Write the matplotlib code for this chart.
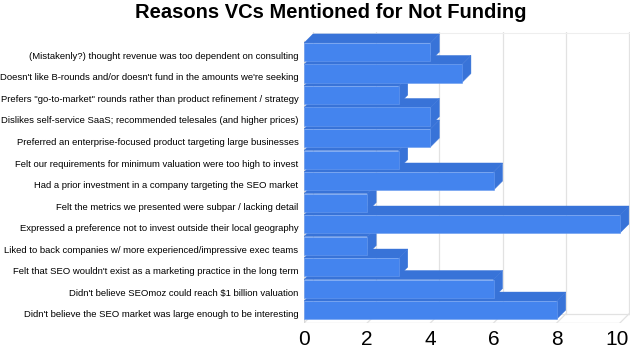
import matplotlib.pyplot as plt
from matplotlib.patches import Polygon
from matplotlib.transforms import ScaledTranslation
import numpy as np

plt.rcParams['font.family'] = ['Liberation Sans', 'DejaVu Sans']

# reasons, top to bottom as in the chart
reasons = [
    "(Mistakenly?) thought revenue was too dependent on consulting",
    "Doesn't like B-rounds and/or doesn't fund in the amounts we're seeking",
    "Prefers \"go-to-market\" rounds rather than product refinement / strategy",
    "Dislikes self-service SaaS; recommended telesales (and higher prices)",
    "Preferred an enterprise-focused product targeting large businesses",
    "Felt our requirements for minimum valuation were too high to invest",
    "Had a prior investment in a company targeting the SEO market",
    "Felt the metrics we presented were subpar / lacking detail",
    "Expressed a preference not to invest outside their local geography",
    "Liked to back companies w/ more experienced/impressive exec teams",
    "Felt that SEO wouldn't exist as a marketing practice in the long term",
    "Didn't believe SEOmoz could reach $1 billion valuation",
    "Didn't believe the SEO market was large enough to be interesting",
]
counts = [4, 5, 3, 4, 4, 3, 6, 2, 10, 2, 3, 6, 8]
xticks = [0, 2, 4, 6, 8, 10]

front_col = "#4484EE"
dark_col = "#3873D8"
grid_col = "#e2e2e2"

fig = plt.figure(figsize=(6.3, 3.57), dpi=100)
ax = fig.add_axes([304 / 630, 1 - 323 / 357, 1 - 304 / 630, (323 - 32) / 357])

n = len(counts)
ypos = np.arange(n)
h = 0.84          # bar thickness
dx, dy = 0.285, 0.42   # fake 3d depth
y_floor = n - 1 + 0.6
y_top = -0.93

ax.set_xlim(0, 10.32)
ax.set_ylim(y_floor, y_top)

# back wall grid + floor
for t in xticks:
    ax.plot([t + dx, t + dx], [y_top + 0.02, y_floor - dy], color=grid_col, lw=0.9, zorder=1)
    ax.plot([t, t + dx], [y_floor, y_floor - dy], color=grid_col, lw=0.9, zorder=1)
ax.plot([dx, 10 + dx], [y_floor - dy, y_floor - dy], color=grid_col, lw=0.9, zorder=1)
ax.plot([0, 10], [y_floor, y_floor], color=grid_col, lw=1.0, zorder=1)
ax.plot([dx, 10 + dx], [y_top + 0.03, y_top + 0.03], color="#eeeeee", lw=0.8, zorder=1)
ax.plot([0, 0], [y_floor, y_top + dy], color="#d8d8d8", lw=1.0, zorder=1)

bars = ax.barh(ypos, counts, height=h, color=front_col, edgecolor="#6a9cf0", linewidth=0.4)
for i, (rect, v) in enumerate(zip(bars, counts)):
    z = 100 - 3 * i
    rect.set_zorder(z + 2)
    y0 = i - h / 2
    y1 = i + h / 2
    top = Polygon([(0, y0), (v, y0), (v + dx, y0 - dy), (dx, y0 - dy)],
                  closed=True, facecolor=dark_col, edgecolor=dark_col, lw=0.3, zorder=z + 1)
    side = Polygon([(v, y0), (v + dx, y0 - dy), (v + dx, y1 - dy), (v, y1)],
                   closed=True, facecolor=dark_col, edgecolor=dark_col, lw=0.3, zorder=z + 1)
    ax.add_patch(top)
    ax.add_patch(side)

ax.set_yticks(ypos)
ax.set_yticklabels(reasons, fontsize=6.8)
ax.set_xticks(xticks)
ax.set_xticklabels([str(t) for t in xticks], fontsize=15)
ax.tick_params(axis="y", length=0, pad=4)
ax.tick_params(axis="x", length=0, pad=5)
for s in ax.spines.values():
    s.set_visible(False)

# labels sit a touch lower than the bar centres in the original
shift = ScaledTranslation(0, -2.5 / 72, fig.dpi_scale_trans)
for lab in ax.get_yticklabels():
    lab.set_transform(lab.get_transform() + shift)
# keep "10" inside the canvas
last = ax.get_xticklabels()[-1]
last.set_transform(last.get_transform() + ScaledTranslation(-2 / 72, 0, fig.dpi_scale_trans))

fig.text(331 / 630, 1 - 12 / 357, "Reasons VCs Mentioned for Not Funding",
         ha="center", va="center", fontsize=14.5, fontweight="bold")

fig.savefig("out.png", dpi=100)
